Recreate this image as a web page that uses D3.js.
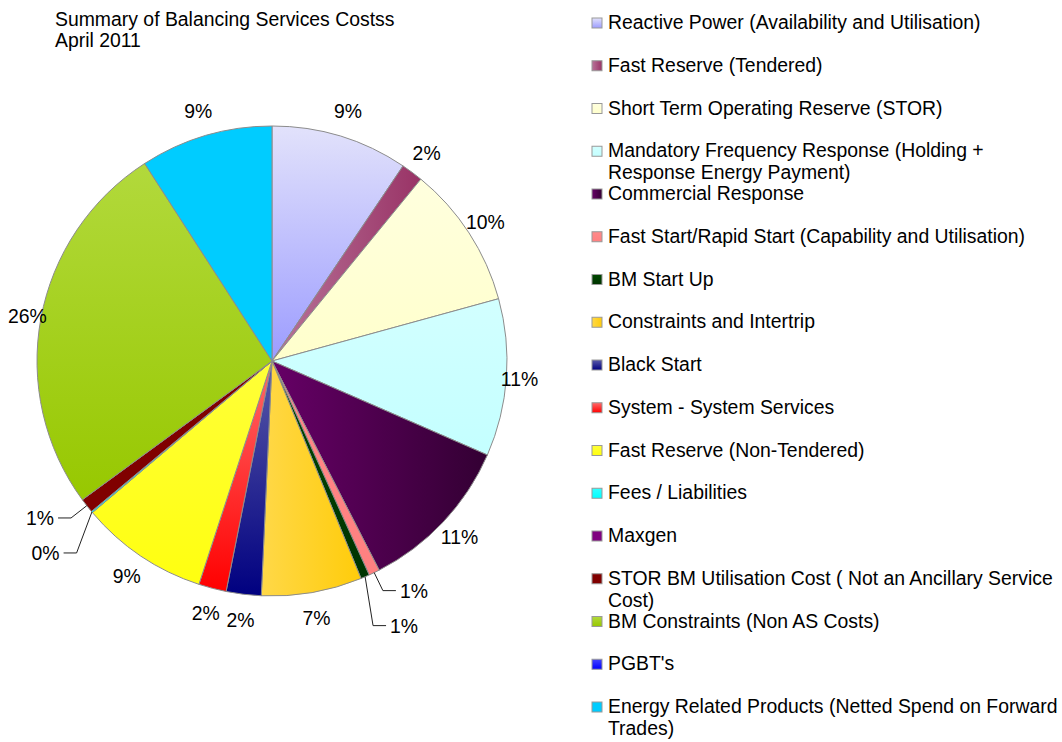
<!DOCTYPE html>
<html>
<head>
<meta charset="utf-8">
<script src="https://cdn.jsdelivr.net/npm/d3@7"></script>
<style>
  body { margin: 0; background: #fff; }
  text { font-family: "Liberation Sans", Arial, sans-serif; font-size: 19.4px; fill: #000; }
</style>
</head>
<body>
<div id="chart"></div>
<script>
//Chart size
var width = 1062, height = 742;

//Title lines
var titleLines = ["Summary of Balancing Services Costss", "April 2011"];

//Categories (legend order = slice order, clockwise from 12 o'clock)
var categories = [
  "Reactive Power (Availability and Utilisation)",
  "Fast Reserve (Tendered)",
  "Short Term Operating Reserve (STOR)",
  "Mandatory Frequency Response (Holding + Response Energy Payment)",
  "Commercial Response",
  "Fast Start/Rapid Start (Capability and Utilisation)",
  "BM Start Up",
  "Constraints and Intertrip",
  "Black Start",
  "System - System Services",
  "Fast Reserve (Non-Tendered)",
  "Fees / Liabilities",
  "Maxgen",
  "STOR BM Utilisation Cost ( Not an Ancillary Service Cost)",
  "BM Constraints (Non AS Costs)",
  "PGBT's",
  "Energy Related Products (Netted Spend on Forward Trades)"
];

//Share of spend (percent)
var values = [9.4, 1.5, 9.8, 10.8, 10.9, 0.75, 0.6, 6.9, 2.4, 1.9, 8.8, 0.1, 0, 1.0, 25.9, 0, 9.1];

//Gradient colours for each slice: start, end and direction
var colorFrom = ["#e2e2fb", "#b87499", "#ffffde", "#d2ffff", "#660066", "#ff8a8a", "#004800", "#ffd848", "#5a5aa8", "#ff6a6a", "#ffff38", "#33ffff", "#800080", "#800000", "#b2d93c", "#4444ff", "#00ccff"];
var colorTo   = ["#9c9cff", "#993366", "#ffffcc", "#c4ffff", "#330033", "#ff8080", "#003300", "#ffcc0a", "#000080", "#ff0000", "#ffff10", "#00ffff", "#800080", "#800000", "#97c800", "#0000ff", "#00ccff"];
var gradDir   = ["v", "h", "v", "v", "h", "v", "v", "h", "v", "v", "v", "v", "v", "v", "v", "v", "v"];

var data = categories.map(function(c, i) { return { name: c, value: values[i], idx: i }; });
var total = d3.sum(values);

var svg = d3.select("#chart").append("svg")
    .attr("width", width)
    .attr("height", height);

svg.append("rect").attr("width", width).attr("height", height).attr("fill", "#fff");

//gradients
var defs = svg.append("defs");
data.forEach(function(d, i) {
  var g = defs.append("linearGradient").attr("id", "grad" + i)
      .attr("x1", 0).attr("y1", 0)
      .attr("x2", gradDir[i] == "h" ? 1 : 0)
      .attr("y2", gradDir[i] == "v" ? 1 : 0);
  g.append("stop").attr("offset", "0%").attr("stop-color", colorFrom[i]);
  g.append("stop").attr("offset", "100%").attr("stop-color", colorTo[i]);
});

//title
svg.append("g").selectAll("text")
    .data(titleLines)
    .enter().append("text")
    .attr("x", 55)
    .attr("y", function(d, i) { return 26 + i * 21; })
    .text(function(d) { return d; });

//pie
var cx = 272, cy = 361, radius = 235;
var pie = d3.pie().sort(null).value(function(d) { return d.value; });
var arcs = pie(data);
var arc = d3.arc().innerRadius(0).outerRadius(radius);

var g = svg.append("g").attr("transform", "translate(" + cx + "," + cy + ")");

g.append("g").selectAll("path")
    .data(arcs.filter(function(a) { return a.data.value > 0; }))
    .enter().append("path")
    .attr("d", arc)
    .attr("fill", function(a) { return "url(#grad" + a.data.idx + ")"; })
    .attr("stroke", "#8c8c8c")
    .attr("stroke-width", 1)
    .attr("stroke-linejoin", "round");

function midAngle(a) { return (a.startAngle + a.endAngle) / 2; }
function pointAt(ang, r) { return [Math.sin(ang) * r, -Math.cos(ang) * r]; }
function pctText(a) { return Math.round(a.data.value / total * 100) + "%"; }
//labels sit a bit closer to the pie near 3 and 9 o'clock
function labelPos(a) {
  var m = midAngle(a);
  return pointAt(m, radius + 26 - 13 * Math.pow(Math.sin(m), 4));
}

var shown = arcs.filter(function(a) { return a.data.value > 0; });
var smallLimit = 1.25;
var bigOnes = shown.filter(function(a) { return a.data.value / total * 100 >= smallLimit; });
var smallOnes = shown.filter(function(a) { return a.data.value / total * 100 < smallLimit; });

//labels for normal slices
g.append("g").selectAll("text")
    .data(bigOnes)
    .enter().append("text")
    .attr("x", function(a) { return labelPos(a)[0]; })
    .attr("y", function(a) { return labelPos(a)[1]; })
    .attr("text-anchor", "middle")
    .attr("dominant-baseline", "central")
    .text(pctText);

//small slices get a leader line, stacked per side
var sides = [smallOnes.filter(function(a) { return Math.sin(midAngle(a)) >= 0; }),
             smallOnes.filter(function(a) { return Math.sin(midAngle(a)) < 0; })];
var leaders = g.append("g");
sides.forEach(function(group, s) {
  //far from the bottom first, nearer ones stacked below
  group.sort(function(a, b) { return Math.abs(midAngle(b) - Math.PI) - Math.abs(midAngle(a) - Math.PI); });
  if (!group.length) return;
  var y0 = pointAt(midAngle(group[0]), radius + 20)[1];
  var dir = s == 0 ? 1 : -1;
  group.forEach(function(a, k) {
    var m = midAngle(a);
    var p0 = pointAt(m, radius);
    var elbow = [pointAt(m, radius + 20)[0], y0 + 35 * k];
    var p2 = [elbow[0] + dir * 13, elbow[1]];
    leaders.append("polyline")
        .attr("points", [p0, elbow, p2].map(function(p) { return p.join(","); }).join(" "))
        .attr("fill", "none")
        .attr("stroke", "#222")
        .attr("stroke-width", 1);
    leaders.append("text")
        .attr("x", p2[0] + dir * 4)
        .attr("y", p2[1])
        .attr("text-anchor", dir > 0 ? "start" : "end")
        .attr("dominant-baseline", "central")
        .text(pctText(a));
  });
});

//legend
var legendX = 592, textX = 608, rowStep = 42.75, firstBase = 29, lineStep = 22, maxW = 458;
var legend = svg.append("g");
var rows = legend.selectAll("g")
    .data(data)
    .enter().append("g")
    .attr("transform", function(d, i) { return "translate(0," + (firstBase + i * rowStep) + ")"; });

rows.append("rect")
    .attr("x", legendX)
    .attr("y", -11)
    .attr("width", 10)
    .attr("height", 10)
    .attr("fill", function(d) { return "url(#grad" + d.idx + ")"; })
    .attr("stroke", "#999")
    .attr("stroke-width", 1);

rows.each(function(d) {
  var row = d3.select(this);
  var words = d.name.split(" ");
  var line = [], lineNo = 0;
  var t = row.append("text").attr("x", textX).attr("y", 0);
  for (var i = 0; i < words.length; i++) {
    line.push(words[i]);
    t.text(line.join(" "));
    if (t.node().getComputedTextLength() > maxW && line.length > 1) {
      line.pop();
      t.text(line.join(" "));
      lineNo++;
      line = [words[i]];
      t = row.append("text").attr("x", textX).attr("y", lineNo * lineStep).text(words[i]);
    }
  }
});
</script>
</body>
</html>
